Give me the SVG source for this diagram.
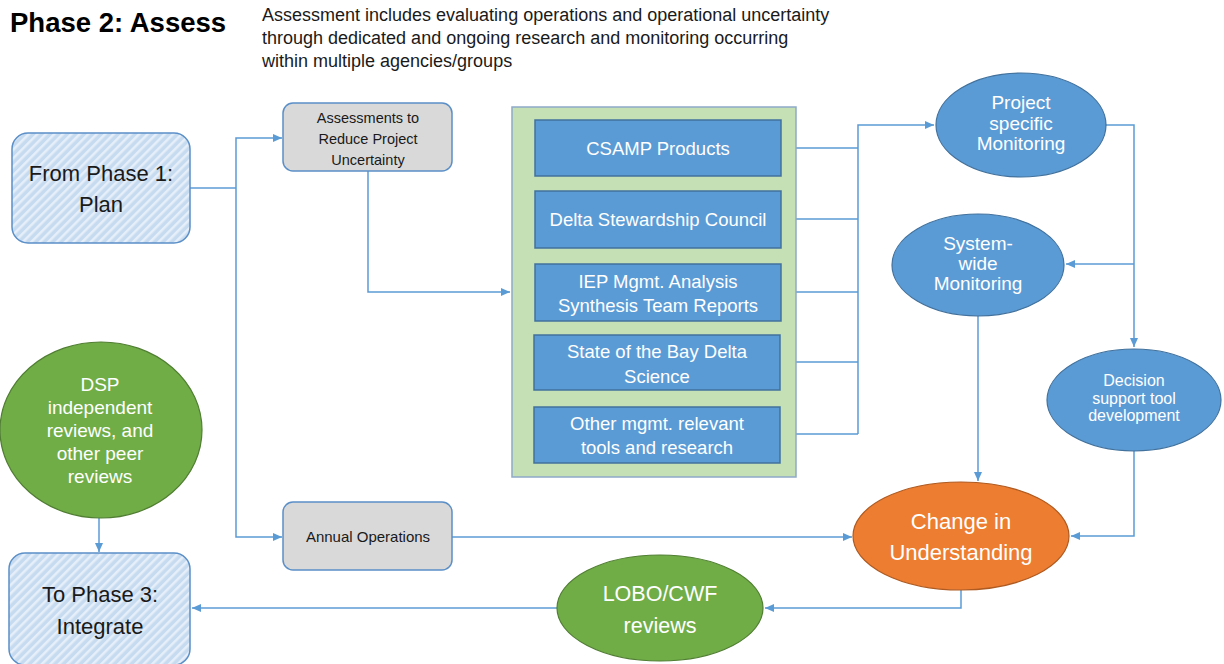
<svg xmlns="http://www.w3.org/2000/svg" width="1224" height="664" viewBox="0 0 1224 664">
<defs>
<pattern id="hatch" patternUnits="userSpaceOnUse" width="6" height="6" patternTransform="rotate(45)">
<rect width="6" height="6" fill="#c6dbf0"/>
<rect width="2.5" height="6" fill="#e6eff9"/>
</pattern>
<marker id="arr" markerUnits="userSpaceOnUse" markerWidth="10" markerHeight="10" refX="9" refY="5" orient="auto">
<path d="M0,1 L9,5 L0,9 Z" fill="#5b9bd5"/>
</marker>
<style>
.t{font-family:"Liberation Sans",Arial,sans-serif;text-anchor:middle}
.w{fill:#ffffff}
.k{fill:#1a1a1a}
.hb{fill:url(#hatch);stroke:#5b8fc7;stroke-width:1.5}
.gb{fill:#d9d9d9;stroke:#5b8fc7;stroke-width:1.5}
.bb{fill:#5b9bd5;stroke:#41719c;stroke-width:1.5}
.be{fill:#5b9bd5;stroke:#41719c;stroke-width:1.2}
.ge{fill:#70ad47;stroke:#507e32;stroke-width:1.2}
.oe{fill:#ed7d31;stroke:#ae5a21;stroke-width:1.2}
.c{fill:none;stroke:#5b9bd5;stroke-width:1.5}
.a{marker-end:url(#arr)}
</style>
</defs>
<rect width="1224" height="664" fill="#ffffff"/>
<g id="title">
<text x="10" y="32" font-family="Liberation Sans,Arial,sans-serif" font-weight="bold" font-size="27.5" fill="#000">Phase 2: Assess</text>
<text font-family="Liberation Sans,Arial,sans-serif" font-size="18" fill="#1a1a1a">
<tspan x="262" y="21">Assessment includes evaluating operations and operational uncertainty</tspan>
<tspan x="262" y="44">through dedicated and ongoing research and monitoring occurring</tspan>
<tspan x="262" y="67">within multiple agencies/groups</tspan>
</text>
</g>
<g id="connectors">
<path class="c" d="M190,188 H236"/>
<path class="c a" d="M236,188 V138 H282"/>
<path class="c a" d="M236,188 V537 H282"/>
<path class="c a" d="M368,171 V292 H510"/>
<path class="c" d="M782,148 H858 M782,219 H858 M782,292 H858 M781,362 H858 M781,434 H858"/>
<path class="c a" d="M858,434 V125 H934"/>
<path class="c a" d="M1106,125 H1134 V347"/>
<path class="c a" d="M1134,264 H1066"/>
<path class="c a" d="M978,316 V481"/>
<path class="c a" d="M1134,451 V536 H1071"/>
<path class="c a" d="M452,537 H852"/>
<path class="c a" d="M961,590 V608 H765"/>
<path class="c a" d="M557,608 H192"/>
<path class="c a" d="M99,518 V552"/>
</g>
<g id="from-phase1">
<rect class="hb" x="12" y="133" width="178" height="110" rx="16"/>
<text class="t k" font-size="22"><tspan x="101" y="181">From Phase 1:</tspan><tspan x="101" y="212">Plan</tspan></text>
</g>
<g id="to-phase3">
<rect class="hb" x="9" y="553" width="181" height="112" rx="16"/>
<text class="t k" font-size="22"><tspan x="100" y="602">To Phase 3:</tspan><tspan x="100" y="634">Integrate</tspan></text>
</g>
<g id="dsp">
<ellipse class="ge" cx="101" cy="430" rx="101" ry="88"/>
<text class="t w" font-size="19"><tspan x="100" y="391">DSP</tspan><tspan x="100" y="414">independent</tspan><tspan x="100" y="437">reviews, and</tspan><tspan x="100" y="460">other peer</tspan><tspan x="100" y="483">reviews</tspan></text>
</g>
<g id="assessments">
<rect class="gb" x="283" y="103" width="169" height="68" rx="10"/>
<text class="t k" font-size="14.5"><tspan x="368" y="123">Assessments to</tspan><tspan x="368" y="144">Reduce Project</tspan><tspan x="368" y="165">Uncertainty</tspan></text>
</g>
<g id="annual-operations">
<rect class="gb" x="283" y="502" width="169" height="68" rx="10"/>
<text class="t k" x="368" y="542" font-size="15">Annual Operations</text>
</g>
<g id="products-group">
<rect x="512" y="107" width="284" height="370" fill="#c5e0b4" stroke="#8fa9c9" stroke-width="1.5"/>
</g>
<g id="csamp">
<rect class="bb" x="535" y="120" width="246" height="56"/>
<text class="t w" x="658" y="155" font-size="18.5">CSAMP Products</text>
</g>
<g id="dsc">
<rect class="bb" x="535" y="191" width="246" height="57"/>
<text class="t w" x="658" y="226" font-size="18.5">Delta Stewardship Council</text>
</g>
<g id="iep">
<rect class="bb" x="535" y="264" width="246" height="57"/>
<text class="t w" font-size="18.5"><tspan x="658" y="288">IEP Mgmt. Analysis</tspan><tspan x="658" y="312">Synthesis Team Reports</tspan></text>
</g>
<g id="state-bay-delta">
<rect class="bb" x="534" y="335" width="246" height="55"/>
<text class="t w" font-size="18.5"><tspan x="657" y="358">State of the Bay Delta</tspan><tspan x="657" y="383">Science</tspan></text>
</g>
<g id="other-tools">
<rect class="bb" x="534" y="407" width="246" height="56"/>
<text class="t w" font-size="18.5"><tspan x="657" y="430">Other mgmt. relevant</tspan><tspan x="657" y="454">tools and research</tspan></text>
</g>
<g id="project-monitoring">
<ellipse class="be" cx="1021" cy="125" rx="85" ry="52"/>
<text class="t w" font-size="19"><tspan x="1021" y="109">Project</tspan><tspan x="1021" y="130">specific</tspan><tspan x="1021" y="150">Monitoring</tspan></text>
</g>
<g id="system-monitoring">
<ellipse class="be" cx="978" cy="265" rx="86" ry="51"/>
<text class="t w" font-size="19"><tspan x="978" y="250">System-</tspan><tspan x="978" y="270">wide</tspan><tspan x="978" y="290">Monitoring</tspan></text>
</g>
<g id="decision-support">
<ellipse class="be" cx="1134" cy="400" rx="87" ry="51"/>
<text class="t w" font-size="16"><tspan x="1134" y="386">Decision</tspan><tspan x="1134" y="404">support tool</tspan><tspan x="1134" y="421">development</tspan></text>
</g>
<g id="change-understanding">
<ellipse class="oe" cx="961" cy="536" rx="108" ry="54"/>
<text class="t w" font-size="22"><tspan x="961" y="529">Change in</tspan><tspan x="961" y="560">Understanding</tspan></text>
</g>
<g id="lobo-cwf">
<ellipse class="ge" cx="660" cy="608" rx="103" ry="53"/>
<text class="t w" font-size="21.5"><tspan x="660" y="601">LOBO/CWF</tspan><tspan x="660" y="633">reviews</tspan></text>
</g>
</svg>
